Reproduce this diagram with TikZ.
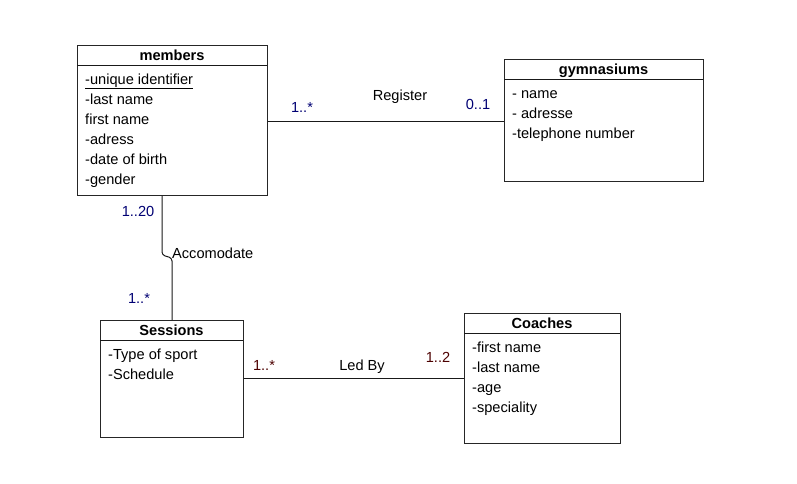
\documentclass[tikz,border=0pt]{standalone}
\usepackage{fontspec}
\setmainfont{Liberation Sans}
\begin{document}
\begin{tikzpicture}[x=1pt,y=-1pt,
  fs/.style={font=\fontsize{14.6}{17}\selectfont,text height=10.5pt,text depth=3pt,yshift=-1.5pt},
  cls/.style={draw=black!85,line width=1pt,anchor=north west,inner sep=0pt,fill=white},
  ttl/.style={fs,font=\fontsize{14.6}{17}\selectfont\bfseries,inner sep=0pt},
  attr/.style={fs,anchor=west,inner sep=0pt},
  lbl/.style={fs,inner sep=0pt},
  mult/.style={lbl,text=blue!45!black},
  conn/.style={draw=black!90,line width=1pt}]
\useasboundingbox (0,0) rectangle (797,483);
% members
\node[cls,minimum width=190pt,minimum height=150pt] (mem) at (77,45) {};
\draw[conn] (77,65) -- (267,65);
\node[ttl] (memt) at (172,55) {members};
\node[attr] (m1) at (85,79) {\underline{-unique identifier}};
\node[attr] (m2) at (85,99) {-last name};
\node[attr] (m3) at (85,119) {first name};
\node[attr] (m4) at (85,139) {-adress};
\node[attr] (m5) at (85,159) {-date of birth};
\node[attr] (m6) at (85,179) {-gender};
% gymnasiums
\node[cls,minimum width=199pt,minimum height=122pt] (gym) at (504,59) {};
\draw[conn] (504,79) -- (703,79);
\node[ttl] (gymt) at (603.5,69) {gymnasiums};
\node[attr] (g1) at (512,93) {- name};
\node[attr] (g2) at (512,113) {- adresse};
\node[attr] (g3) at (512,133) {-telephone number};
% Sessions
\node[cls,minimum width=143pt,minimum height=117pt] (ses) at (100,320) {};
\draw[conn] (100,340) -- (243,340);
\node[ttl] (sest) at (171.5,330) {Sessions};
\node[attr] (s1) at (108,354) {-Type of sport};
\node[attr] (s2) at (108,374) {-Schedule};
% Coaches
\node[cls,minimum width=156pt,minimum height=130pt] (coa) at (464,313) {};
\draw[conn] (464,333) -- (620,333);
\node[ttl] (coat) at (542,323) {Coaches};
\node[attr] (c1) at (472,347) {-first name};
\node[attr] (c2) at (472,367) {-last name};
\node[attr] (c3) at (472,387) {-age};
\node[attr] (c4) at (472,407) {-speciality};
% Register
\draw[conn] (mem.east |- 0,121) -- (gym.west |- 0,121);
\node[lbl] (reg) at (400,95) {Register};
\node[mult] (r1) at (302,107) {1..*};
\node[mult] (r2) at (478,104) {0..1};
% Accomodate
\draw[conn,rounded corners=3pt] (mem.south -| 162,0) -- (162,255) -- (172,258) -- (ses.north -| 172,0);
\node[lbl,anchor=west] (acc) at (172,253) {Accomodate};
\node[mult] (a1) at (138,211) {1..20};
\node[mult] (a2) at (139,298) {1..*};
% Led By
\draw[conn] (ses.east |- 0,378.5) -- (coa.west |- 0,378.5);
\node[lbl] (led) at (362,365) {Led By};
\node[lbl,text=red!30!black] (l1) at (264,365) {1..*};
\node[lbl,text=red!30!black] (l2) at (438,357) {1..2};
\end{tikzpicture}
\end{document}
